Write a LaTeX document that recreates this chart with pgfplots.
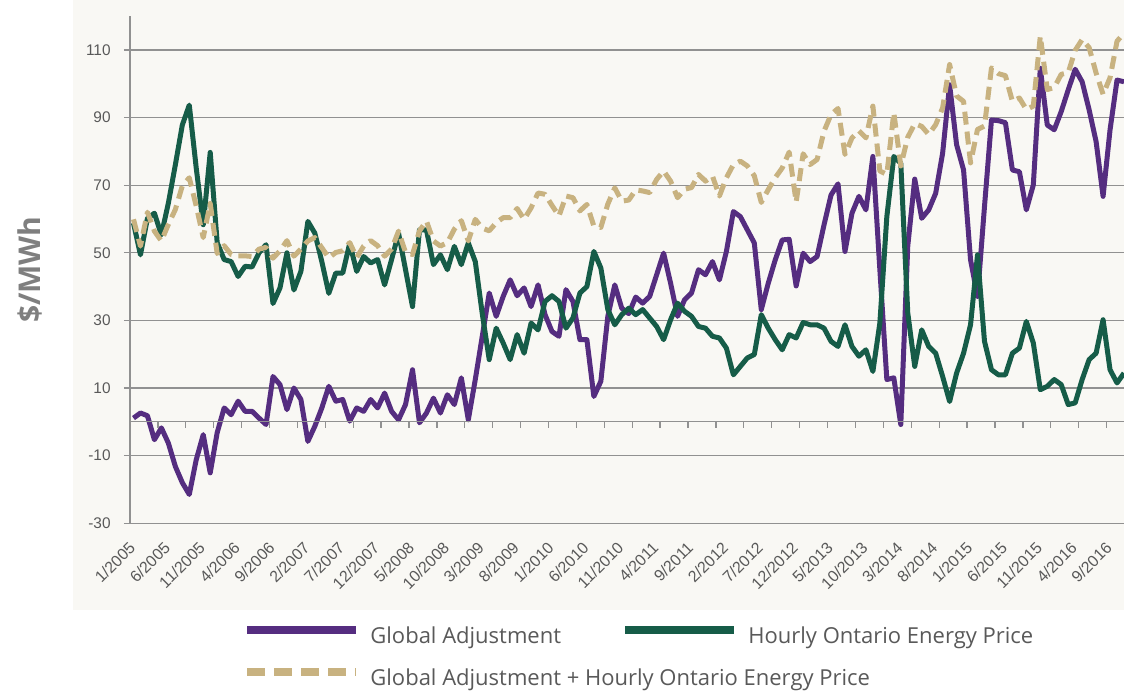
\documentclass[border=0pt]{standalone}
\usepackage{pgfplots}
\pgfplotsset{compat=1.18}
\usepackage{pgfplotstable}
\usepackage{fontspec}
\setmainfont{Liberation Sans}
\newfontfamily\legfont{Open Sans}

\definecolor{gapurple}{RGB}{85,45,128}
\definecolor{hoepgreen}{RGB}{22,92,72}
\definecolor{sumtan}{RGB}{200,178,128}
\definecolor{gridgray}{RGB}{145,145,145}
\definecolor{ticktext}{RGB}{89,89,89}
\definecolor{labgray}{RGB}{127,127,127}
\definecolor{bgcol}{RGB}{249,248,244}

% month index (0 = 1/2005), Global Adjustment, HOEP, sum ($/MWh)
\pgfplotstableread{
m ga hoep sum
0 1.1 58.8 59.9
1 2.6 49.4 52.0
2 1.8 60.2 62.0
3 -5.3 61.7 56.4
4 -1.8 55.3 53.5
5 -6.3 64.7 58.4
6 -13.2 76.0 62.8
7 -18.0 87.8 69.8
8 -21.5 93.7 72.2
9 -11.2 75.0 63.8
10 -3.8 58.3 54.5
11 -15.1 79.7 64.6
12 -3.2 53.0 49.8
13 4.1 48.0 52.1
14 2.1 47.4 49.5
15 6.1 43.0 49.1
16 3.1 46.0 49.1
17 3.1 45.8 48.9
18 1.1 50.0 51.1
19 -0.8 52.4 51.6
20 13.4 35.0 48.4
21 11.0 39.6 50.6
22 3.6 50.0 53.6
23 10.0 39.0 49.0
24 6.6 44.5 51.1
25 -5.8 59.3 53.5
26 -1.3 55.8 54.5
27 4.1 47.4 51.5
28 10.5 38.0 48.5
29 6.1 44.0 50.1
30 6.6 44.0 50.6
31 0.2 52.8 53.0
32 4.1 44.5 48.6
33 3.1 48.9 52.0
34 6.6 47.0 53.6
35 4.1 48.0 52.1
36 8.5 40.5 49.0
37 3.1 48.0 51.1
38 0.6 55.8 56.4
39 5.1 45.0 50.1
40 15.4 34.1 49.5
41 -0.3 56.8 56.5
42 2.6 56.8 59.4
43 7.0 46.5 53.5
44 2.6 49.4 52.0
45 8.0 45.0 53.0
46 5.1 51.9 57.0
47 13.0 46.5 59.5
48 0.6 52.9 53.5
49 12.5 47.4 59.9
50 25.3 32.0 57.3
51 38.1 18.4 56.5
52 31.2 27.7 58.9
53 37.1 23.3 60.4
54 42.0 18.4 60.4
55 37.3 25.8 63.1
56 39.6 20.3 59.9
57 34.1 29.2 63.3
58 40.5 27.2 67.7
59 31.7 35.6 67.3
60 26.7 37.3 64.0
61 25.3 35.6 60.9
62 39.1 27.7 66.8
63 35.6 30.7 66.3
64 24.3 38.1 62.4
65 24.3 40.0 64.3
66 7.5 50.4 57.9
67 12.0 45.5 57.5
68 31.2 33.2 64.4
69 40.5 28.7 69.2
70 33.6 31.7 65.3
71 32.0 33.6 65.6
72 36.9 31.7 68.6
73 35.1 33.2 68.3
74 37.1 30.7 67.8
75 43.5 28.2 71.7
76 49.9 24.3 74.2
77 41.0 30.2 71.2
78 31.2 35.1 66.3
79 36.1 32.7 68.8
80 38.1 31.2 69.3
81 45.0 28.2 73.2
82 43.5 27.7 71.2
83 47.4 25.3 72.7
84 42.0 24.8 66.8
85 50.4 21.8 72.2
86 62.2 13.9 76.1
87 60.7 16.4 77.1
88 56.8 18.9 75.7
89 52.9 19.9 72.8
90 33.2 31.7 64.9
91 41.0 27.7 68.7
92 47.9 24.3 72.2
93 53.8 21.3 75.1
94 54.0 25.8 79.8
95 40.2 24.8 65.0
96 49.9 29.4 79.3
97 47.4 28.7 76.1
98 48.9 28.7 77.6
99 58.3 27.7 86.0
100 67.1 23.8 90.9
101 70.4 22.3 92.7
102 50.4 28.7 79.1
103 61.7 22.3 84.0
104 66.7 19.4 86.1
105 62.7 21.3 84.0
106 78.5 14.9 93.4
107 45.0 29.2 74.2
108 12.5 60.7 73.2
109 13.0 78.5 91.5
110 -0.8 76.5 75.7
111 52.0 32.2 84.2
112 71.8 16.4 88.2
113 60.2 27.2 87.4
114 62.7 22.3 85.0
115 67.6 20.3 87.9
116 79.5 13.4 92.9
117 99.7 6.0 105.7
118 82.0 14.4 96.4
119 74.5 20.3 94.8
120 47.9 28.7 76.6
121 37.1 49.4 86.5
122 63.7 23.8 87.5
123 89.3 15.4 104.7
124 89.1 13.9 103.0
125 88.5 13.9 102.4
126 74.5 20.3 94.8
127 74.0 21.8 95.8
128 62.7 29.7 92.4
129 70.1 23.3 93.4
130 104.6 9.5 114.1
131 87.8 10.5 98.3
132 86.4 12.5 98.9
133 91.8 11.0 102.8
134 98.2 5.1 103.3
135 104.3 5.6 109.9
136 100.6 12.5 113.1
137 92.3 18.4 110.7
138 82.9 20.3 103.2
139 66.7 30.2 96.9
140 86.4 15.4 101.8
141 101.1 11.5 112.6
142 100.6 14.4 115.0
}\datatable

\begin{document}
\begin{tikzpicture}
\useasboundingbox (-65bp,-84bp) rectangle (497bp,261.6bp);
\fill[bgcol] (-28.5bp,-43.5bp) rectangle (497bp,261.6bp);
\begin{axis}[
    scale only axis,
    width=497bp, height=253.5bp,
    xmin=-0.5, xmax=142,
    ymin=-30, ymax=120,
    axis x line*=bottom,
    axis y line*=left,
    axis line style={gridgray, line width=0.65bp},
    ytick={-30,-10,...,110},
    ymajorgrids,
    grid style={gridgray, line width=0.65bp},
    ytick style={gridgray, line width=0.65bp},
    tick align=outside,
    ytick pos=left,
    major tick length=3bp,
    xtick={0,5,...,140},
    xtick style={draw=none},
    xticklabels={1/2005,6/2005,11/2005,4/2006,9/2006,2/2007,7/2007,12/2007,5/2008,10/2008,3/2009,8/2009,1/2010,6/2010,11/2010,4/2011,9/2011,2/2012,7/2012,12/2012,5/2013,10/2013,3/2014,8/2014,1/2015,6/2015,11/2015,4/2016,9/2016},
    xticklabel style={xshift=-0.5bp, yshift=-7.8bp, rotate=45, anchor=east, inner sep=0pt,
        font=\fontsize{8bp}{9.5bp}\selectfont, text=ticktext},
    yticklabel style={font=\fontsize{7.7bp}{9bp}\selectfont, text=ticktext, inner sep=0pt, xshift=-6.5bp},
    /pgf/number format/assume math mode=true,
    ylabel={\legfont\bfseries \$/MWh},
    ylabel style={at={(axis description cs:-0.1006,0.5)}, anchor=center,
        font=\fontsize{15bp}{17bp}\selectfont, text=labgray},
    legend columns=2,
    legend style={draw=none, fill=none, at={(axis description cs:0.1137,-0.197)},
        anchor=north west, inner sep=0pt, column sep=0pt, row sep=7bp,
        font=\legfont\fontsize{11bp}{13bp}\selectfont, text=ticktext,
        nodes={inner sep=0pt, text height=10bp, text depth=4bp}},
    legend cell align=left,
    line join=round,
]
\addplot[gapurple, line width=2.5bp, no markers,
    legend image code/.code={\draw[gapurple, line width=4bp] (0bp,3.5bp) -- (54.5bp,3.5bp);}]
    table[x=m, y=ga] {\datatable};
\addlegendentry{\makebox[130.5bp][l]{\hspace{5bp}Global Adjustment}}
\addplot[hoepgreen, line width=2.5bp, no markers,
    legend image code/.code={\draw[hoepgreen, line width=4bp] (0bp,3.5bp) -- (54.5bp,3.5bp);}]
    table[x=m, y=hoep] {\datatable};
\addlegendentry{\hspace{5bp}Hourly Ontario Energy Price}
\addplot[sumtan, line width=2.5bp, no markers, dash pattern=on 6.5bp off 3.5bp,
    legend image code/.code={\draw[sumtan, line width=4bp, dash pattern=on 9bp off 4.5bp] (0bp,3.5bp) -- (54.5bp,3.5bp);}]
    table[x=m, y=sum] {\datatable};
\addlegendentry{\makebox[130.5bp][l]{\hspace{5bp}Global Adjustment + Hourly Ontario Energy Price}}
\end{axis}
\begin{axis}[
    scale only axis,
    width=497bp, height=253.5bp,
    xmin=-0.5, xmax=142,
    ymin=-30, ymax=120,
    axis x line*=middle,
    axis y line=none,
    axis line style={gridgray, line width=0.65bp},
    xtick={-0.5,3.5,...,139.5},
    xticklabels={},
    xtick style={gridgray, line width=0.65bp},
    tick align=outside,
    major tick length=3bp,
]
\end{axis}
\end{tikzpicture}
\end{document}
